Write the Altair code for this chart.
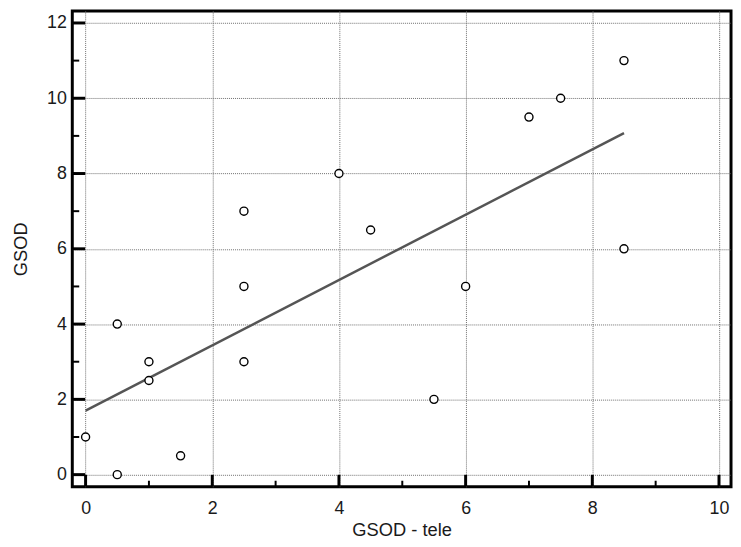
import altair as alt
import pandas as pd

# data
gsod_tele = [0, 0.5, 0.5, 1, 1, 1.5, 2.5, 2.5, 2.5, 4, 4.5, 5.5, 6, 7, 7.5, 8.5, 8.5]
gsod = [1, 0, 4, 3, 2.5, 0.5, 7, 5, 3, 8, 6.5, 2, 5, 9.5, 10, 11, 6]

x_major = [0, 2, 4, 6, 8, 10]
x_minor = [1, 3, 5, 7, 9]
y_major = [0, 2, 4, 6, 8, 10, 12]
y_minor = [1, 3, 5, 7, 9, 11]

W, H = 666, 481
FONT = "Liberation Sans"

df = pd.DataFrame({"x": gsod_tele, "y": gsod})
xs = alt.Scale(domain=[-0.21, 10.19], nice=False, zero=False)
ys = alt.Scale(domain=[-0.32, 12.32], nice=False, zero=False)

base = alt.Chart(df)

points = base.mark_point(shape="circle", filled=False, fill="white", fillOpacity=1,
                         stroke="black", strokeWidth=1.4, size=66, opacity=1).encode(
    x=alt.X("x:Q", scale=xs, title="GSOD - tele",
            axis=alt.Axis(values=x_major, format="d", labelPadding=13, titlePadding=3)),
    y=alt.Y("y:Q", scale=ys, title="GSOD",
            axis=alt.Axis(values=y_major, format="d", labelPadding=6, titlePadding=16)),
)

line = base.transform_regression("x", "y").mark_line(color="#555555", strokeWidth=2.5).encode(
    x=alt.X("x:Q", scale=xs),
    y=alt.Y("y:Q", scale=ys),
)

def xticks(vals, length, width):
    return alt.Chart(pd.DataFrame({"v": vals})).mark_rule(color="black", strokeWidth=width).encode(
        x=alt.X("v:Q", scale=xs),
        y=alt.value(H), y2=alt.value(H - length),
    )

def yticks(vals, length, width):
    return alt.Chart(pd.DataFrame({"v": vals})).mark_rule(color="black", strokeWidth=width).encode(
        y=alt.Y("v:Q", scale=ys),
        x=alt.value(0), x2=alt.value(length),
    )

chart = alt.layer(
    line, points,
    xticks(x_major, 12, 3), xticks(x_minor, 6, 2),
    yticks(y_major, 13, 3), yticks(y_minor, 7, 2),
).properties(
    width=W, height=H,
    background="white",
    autosize=alt.AutoSizeParams(type="none"),
    padding={"left": 65, "top": 0, "right": 2, "bottom": 56},
).configure_view(
    stroke="black", strokeWidth=3, fill="white",
).configure_axis(
    domain=False, ticks=False, tickSize=0,
    grid=True, gridColor="#6f6f6f", gridDash=[1, 1], gridWidth=1,
    labelFont=FONT, labelFontSize=18, labelColor="#1a1a1a",
    titleFont=FONT, titleFontSize=18.5, titleFontWeight="normal", titleColor="#1a1a1a",
)

chart.save("out.html", embed_options={"renderer": "svg", "actions": False})
